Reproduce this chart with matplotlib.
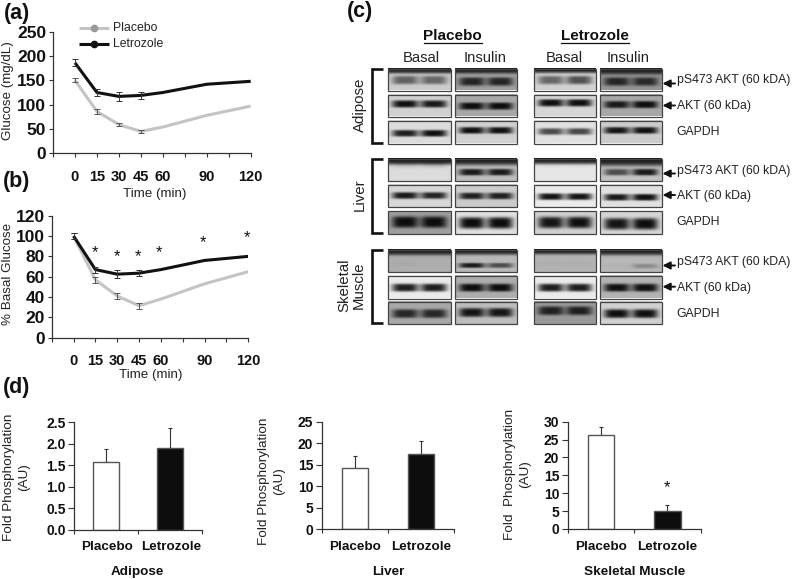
#!/usr/bin/python
import numpy as np
import matplotlib
matplotlib.use('Agg')
import matplotlib.pyplot as plt
from matplotlib.patches import Rectangle

plt.rcParams['font.family'] = ['Liberation Sans', 'DejaVu Sans']

W, H = 792, 579

# time course data
times = [0, 15, 30, 45, 60, 90, 120]
err_times = [0, 15, 30, 45]
time_ticks = [-15, 0, 15, 30, 45, 60, 75, 90, 105, 120]
time_labels = ['', '0', '15', '30', '45', '60', '', '90', '', '120']

glu_placebo = [150, 86, 59, 45, 54, 78, 97]
glu_letro = [186, 125, 117, 119, 125, 142, 148]
glu_placebo_err = [4, 5, 3, 3]
glu_letro_err = [7, 7, 9, 8]

pct_placebo = [100, 57, 41, 31.5, 38, 53, 65]
pct_letro = [100, 67, 62.5, 63.5, 67, 76, 80]
pct_placebo_err = [3, 3, 3, 3]
pct_letro_err = [3, 3, 4, 3]
star_x = [14.5, 29.5, 44, 59, 89, 119]
star_y = [84, 80, 80, 84, 94, 98]

# fold phosphorylation bars
groups = ['Placebo', 'Letrozole']
adipose_vals = [1.56, 1.90]
adipose_err = [0.31, 0.45]
liver_vals = [14.2, 17.6]
liver_err = [2.8, 2.8]
muscle_vals = [26.2, 5.0]
muscle_err = [2.4, 1.7]

# blot rows: y range, background, top smear, band centre, (left, right) band level per box, band half height
blot_cols = [(388, 450.5), (455, 517), (533.5, 595.5), (599.5, 661.5)]
blot_rows = [
    (68.5, 90.5, [.80, .62, .82, .58], [.24, .24, .22, .28], [.55, .62, .55, .62],
     [(.38, .40), (.14, .14), (.40, .32), (.14, .16)], .20),
    (94.5, 116.5, [.82, .66, .84, .66], [0, 0, 0, 0], [.45, .55, .40, .48],
     [(.06, .10), (.05, .05), (.06, .06), (.10, .05)], .17),
    (121, 143.5, [.86, .82, .88, .80], [0, 0, 0, 0], [.58, .45, .50, .45],
     [(.12, .06), (.06, .06), (.30, .28), (.08, .06)], .15),
    (158.5, 181, [.86, .74, .90, .76], [.28, .30, .26, .34], [.30, .62, .30, .62],
     [(.80, .78), (.10, .10), (.88, .88), (.30, .10)], .15),
    (184.5, 207, [.84, .80, .92, .88], [0, 0, 0, 0], [.50, .52, .55, .58],
     [(.10, .14), (.12, .12), (.08, .08), (.10, .06)], .15),
    (211, 234, [.62, .88, .82, .84], [0, 0, 0, 0], [.48, .52, .50, .56],
     [(.05, .05), (.05, .05), (.08, .06), (.08, .05)], .26),
    (249.5, 272, [.68, .72, .70, .72], [.26, .24, .22, .26], [.65, .72, .65, .75],
     [(.66, .68), (.10, .30), (.68, .68), (.70, .55)], .11),
    (276, 298.5, [.92, .68, .92, .70], [0, 0, 0, 0], [.55, .55, .55, .55],
     [(.12, .12), (.05, .05), (.12, .12), (.06, .06)], .18),
    (301.5, 324, [.66, .74, .60, .82], [0, 0, 0, 0], [.55, .50, .42, .55],
     [(.15, .15), (.08, .08), (.12, .12), (.06, .06)], .20),
]

fig = plt.figure(figsize=(W / 100, H / 100), dpi=100)


def pixel_axes(left, top, right, bottom):
    return fig.add_axes([left / W, 1 - bottom / H, (right - left) / W, (bottom - top) / H])


def clean(ax):
    ax.spines['right'].set_visible(False)
    ax.spines['top'].set_visible(False)
    ax.spines['left'].set_color('#333333')
    ax.spines['bottom'].set_color('#333333')
    ax.spines['left'].set_linewidth(0.9)
    ax.spines['bottom'].set_linewidth(0.9)
    ax.patch.set_alpha(0)


def time_panel(ax, placebo, letro, p_err, l_err, ymax, yticks):
    clean(ax)
    ax.plot(times, placebo, color='#c4c4c4', lw=2.2, solid_capstyle='butt', zorder=2)
    ax.plot(times, letro, color='#111111', lw=2.2, solid_capstyle='butt', zorder=3)
    ax.errorbar(err_times, placebo[:4], yerr=p_err, fmt='none', ecolor='#555555', elinewidth=0.7, capsize=2, capthick=0.7, zorder=4)
    ax.errorbar(err_times, letro[:4], yerr=l_err, fmt='none', ecolor='#333333', elinewidth=0.7, capsize=2, capthick=0.7, zorder=4)
    ax.set_xlim(-15, 120)
    ax.set_ylim(0, ymax)
    ax.set_xticks(time_ticks)
    ax.set_xticklabels(time_labels, fontsize=10.5, fontweight='bold', color='#111111')
    ax.set_yticks(yticks)
    ax.set_yticklabels([str(v) for v in yticks], fontsize=12.5, fontweight='bold', color='#111111')
    ax.tick_params(axis='x', length=3, width=0.8, pad=9, color='#333333')
    ax.tick_params(axis='y', length=3, width=0.8, pad=2, color='#333333')


def bar_panel(ax, vals, errs, ymax, yticks, ylabels):
    clean(ax)
    ax.bar([0.5, 1.5], vals, width=0.4, color=['white', '#0d0d0d'], edgecolor='#555555', linewidth=1.0, zorder=2)
    ax.errorbar([0.5, 1.5], vals, yerr=[[0, 0], errs], fmt='none', ecolor='#333333', elinewidth=0.8, capsize=1.5, capthick=0.8, zorder=1)
    ax.set_xlim(0, 2)
    ax.set_ylim(0, ymax)
    ax.set_xticks([0, 1, 2])
    ax.set_xticklabels([])
    ax.set_yticks(yticks)
    ax.set_yticklabels(ylabels, fontsize=10, fontweight='bold', color='#111111')
    ax.tick_params(axis='x', length=3, width=0.8, color='#333333')
    ax.tick_params(axis='y', length=4, width=0.8, pad=2, color='#333333')


# panel (a)
ax_a = pixel_axes(53, 31.7, 250.7, 153.3)
time_panel(ax_a, glu_placebo, glu_letro, glu_placebo_err, glu_letro_err, 250, [0, 50, 100, 150, 200, 250])

# panel (b)
ax_b = pixel_axes(51.7, 215.7, 248.3, 337.7)
time_panel(ax_b, pct_placebo, pct_letro, pct_placebo_err, pct_letro_err, 120, [0, 20, 40, 60, 80, 100, 120])
for sx, sy in zip(star_x, star_y):
    ax_b.text(sx, sy, '*', ha='center', va='center', fontsize=12, color='#111111')

# panel (d)
ax_d1 = pixel_axes(74, 422, 202.3, 529.7)
bar_panel(ax_d1, adipose_vals, adipose_err, 2.5, [0, 0.5, 1, 1.5, 2, 2.5], ['0.0', '0.5', '1.0', '1.5', '2.0', '2.5'])
ax_d2 = pixel_axes(321.7, 421.7, 454.3, 529.3)
bar_panel(ax_d2, liver_vals, liver_err, 25, [0, 5, 10, 15, 20, 25], ['0', '5', '10', '15', '20', '25'])
ax_d3 = pixel_axes(567.7, 421.7, 700.7, 529)
bar_panel(ax_d3, muscle_vals, muscle_err, 30, [0, 5, 10, 15, 20, 25, 30], ['0', '5', '10', '15', '20', '25', '30'])
ax_d3.text(1.5, 11.6, '*', ha='center', va='center', fontsize=12, color='#111111')

# everything else is placed in pixel coordinates on a full figure overlay
ov = fig.add_axes([0, 0, 1, 1])
ov.set_xlim(0, W)
ov.set_ylim(H, 0)
ov.axis('off')
ov.patch.set_alpha(0)


def txt(x, y, s, size=9.7, weight='normal', rot=0, color='#222222', ls=1.15):
    ov.text(x, y, s, fontsize=size, fontweight=weight, rotation=rot, ha='center', va='center',
            color=color, linespacing=ls)


def blot(x0, x1, y0, y1, bg, top, cy, dark, hh):
    xx, yy = np.meshgrid(np.linspace(0, 1, 80), np.linspace(0, 1, 30))
    img = np.full(xx.shape, bg, dtype=float)
    for cx, d in ((0.27, dark[0]), (0.73, dark[1])):
        img -= (bg - d) * np.exp(-((xx - cx) / 0.21) ** 4 - ((yy - cy) / hh) ** 4)
    if top > 0:
        img -= (bg - 0.12) * np.exp(-(yy / top) ** 4)
    img = np.clip(img, 0.04, 1)
    ov.imshow(img, extent=(x0, x1, y1, y0), cmap='gray', vmin=0, vmax=1, aspect='auto',
              interpolation='bilinear', zorder=2)
    ov.add_patch(Rectangle((x0, y0), x1 - x0, y1 - y0, fill=False, ec='#444444', lw=0.9, zorder=3))


for y0, y1, bgs, tops, cys, darks, hh in blot_rows:
    for i, (x0, x1) in enumerate(blot_cols):
        blot(x0, x1, y0, y1, bgs[i], tops[i], cys[i], darks[i], hh)
ov.set_xlim(0, W)
ov.set_ylim(H, 0)

# brackets
for y0, y1 in [(68, 144), (158, 234), (249, 324)]:
    ov.plot([382.5, 371.5, 371.5, 382.5], [y0 + 1, y0 + 1, y1 - 1, y1 - 1], color='#111111', lw=1.9,
            solid_joinstyle='miter', solid_capstyle='butt', zorder=4)

# row labels and arrows
row_text = ['pS473 AKT (60 kDA)', 'AKT (60 kDa)', 'GAPDH']
row_y = [[80, 105.7, 132.3], [170.7, 195.7, 222.3], [261.7, 287.7, 314]]
arrow_y = [[83.5, 105.5], [173.5, 195], [265.5, 286.7]]
for ys in row_y:
    for s, y in zip(row_text, ys):
        ov.text(676.7, y, s, fontsize=8.8, ha='left', va='center', color='#222222')
for ys in arrow_y:
    for y in ys:
        ov.annotate('', xy=(662.5, y), xytext=(675, y),
                    arrowprops=dict(arrowstyle='-|>', color='#111111', lw=1.4, mutation_scale=11,
                                    shrinkA=0, shrinkB=0))

# headers of panel (c)
for x, s, x0, x1 in [(452.7, 'Placebo', 424, 482), (594.7, 'Letrozole', 561, 628.5)]:
    txt(x, 35.5, s, size=11, weight='bold', color='#111111')
    ov.plot([x0, x1], [43, 43], color='#111111', lw=0.9)
for x, s in [(421.7, 'Basal'), (485, 'Insulin'), (564, 'Basal'), (628, 'Insulin')]:
    txt(x, 57.5, s, size=10.6)
txt(360, 105, 'Adipose', size=10.8, rot=90)
txt(360, 195, 'Liver', size=10.8, rot=90)
txt(351.5, 285, 'Skeletal\nMuscle', size=10.8, rot=90, ls=1.05)

# panel letters
for x, y, s in [(17, 13, '(a)'), (17, 181, '(b)'), (360, 11, '(c)'), (17, 387, '(d)')]:
    txt(x, y, s, size=15.5, weight='bold', color='#111111')

# legend of panel (a)
for y, col, s in [(28, '#c4c4c4', 'Placebo'), (44.3, '#111111', 'Letrozole')]:
    ov.plot([79, 109], [y, y], color=col, lw=2.2, solid_capstyle='butt', zorder=4)
    ov.plot([94], [y], 'o', color='#999999' if col != '#111111' else '#111111', ms=4.5, zorder=5)
    ov.text(113, y, s, fontsize=8.8, ha='left', va='center', color='#222222')

# axis titles
txt(8, 91, 'Glucose (mg/dL)', rot=90, size=9.6)
txt(155, 194, 'Time (min)', size=9.6)
txt(8, 274, '% Basal Glucose', rot=90, size=9.6)
txt(151, 375, 'Time (min)', size=9.6)
txt(17, 477, 'Fold Phosphorylation\n(AU)', rot=90, ls=1.35)
txt(271.5, 481, 'Fold Phosphorylation\n(AU)', rot=90, ls=1.35)
txt(518, 474, 'Fold  Phosphorylation\n(AU)', rot=90, ls=1.35)

# bar labels
for xs, title, tx in [((106.7, 170.7), 'Adipose', 137), ((355, 421), 'Liver', 388), ((601, 666.7), 'Skeletal Muscle', 634.3)]:
    for x, g in zip(xs, groups):
        txt(x, 547.3, g, weight='bold', color='#111111')
    txt(tx, 571.7, title, weight='bold', color='#111111')

fig.savefig('out.png', dpi=100)
